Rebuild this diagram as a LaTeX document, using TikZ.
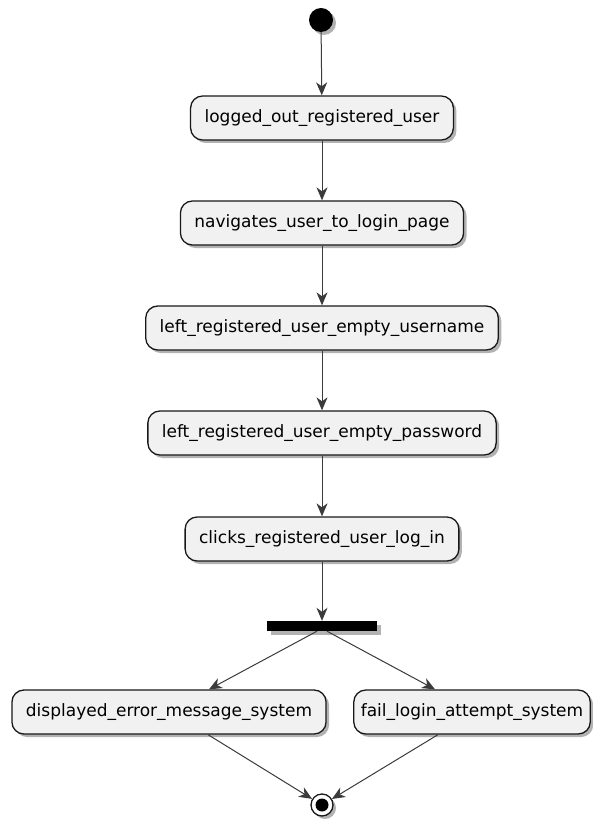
\documentclass[tikz,border=0pt]{standalone}
\usepackage{fontspec}
\setmainfont{DejaVu Sans}
\usetikzlibrary{arrows.meta,shadows,positioning}

\definecolor{actfill}{HTML}{F1F1F1}
\definecolor{actline}{HTML}{181818}

\tikzset{
  act/.style={draw=actline, fill=actfill, line width=1.3pt, rounded corners=12pt,
    minimum height=44pt, inner xsep=14pt, font=\fontsize{17}{19}\selectfont,
    drop shadow={shadow xshift=3pt, shadow yshift=-3pt, opacity=0.3, fill=black}},
  flow/.style={draw=actline!85, line width=1pt, -{Stealth[length=13pt,width=11pt,inset=4pt]}}
}

\begin{document}
\begin{tikzpicture}[x=1pt,y=-1pt]
    \useasboundingbox (0,0) rectangle (592,826);

	  \node[circle,fill=black,minimum size=24pt,inner sep=0pt,
	    drop shadow={shadow xshift=3pt, shadow yshift=-3pt, opacity=0.3, fill=black}] (start) at (321,20) {};

	  \node[act] (a) at (322,118) {logged\_out\_registered\_user};
	  \node[act] (b) at (322,223) {navigates\_user\_to\_login\_page};
	  \node[act] (c) at (322,328) {left\_registered\_user\_empty\_username};
	  \node[act] (d) at (322,433) {left\_registered\_user\_empty\_password};
	  \node[act] (e) at (322,539) {clicks\_registered\_user\_log\_in};

	  \node[rectangle,fill=black,minimum width=110pt,minimum height=10pt,inner sep=0pt,
	    drop shadow={shadow xshift=4pt, shadow yshift=-4pt, opacity=0.3, fill=black}] (fork) at (322,626) {};

	  \node[act] (f) at (169,712) {displayed\_error\_message\_system};
	  \node[act,inner xsep=7pt] (g) at (472,712) {fail\_login\_attempt\_system};

	  \node[circle,draw=actline,fill=white,line width=1.3pt,minimum size=22pt,inner sep=0pt,
	    drop shadow={shadow xshift=3pt, shadow yshift=-3pt, opacity=0.3, fill=black}] (stop) at (322,805) {};
	  \fill[black] (stop) circle (6.5pt);

      \draw[flow] (start) -- (a);
      \draw[flow] (a) -- (b);
      \draw[flow] (b) -- (c);
      \draw[flow] (c) -- (d);
      \draw[flow] (d) -- (e);
      \draw[flow] (e) -- (fork);
      \draw[flow] ([xshift=-5pt]fork.south) -- ([xshift=40pt]f.north);
      \draw[flow] ([xshift=5pt]fork.south) -- ([xshift=-37pt]g.north);
      \draw[flow] ([xshift=39pt]f.south) -- (stop);
      \draw[flow] ([xshift=-34pt]g.south) -- (stop);
\end{tikzpicture}
\end{document}
